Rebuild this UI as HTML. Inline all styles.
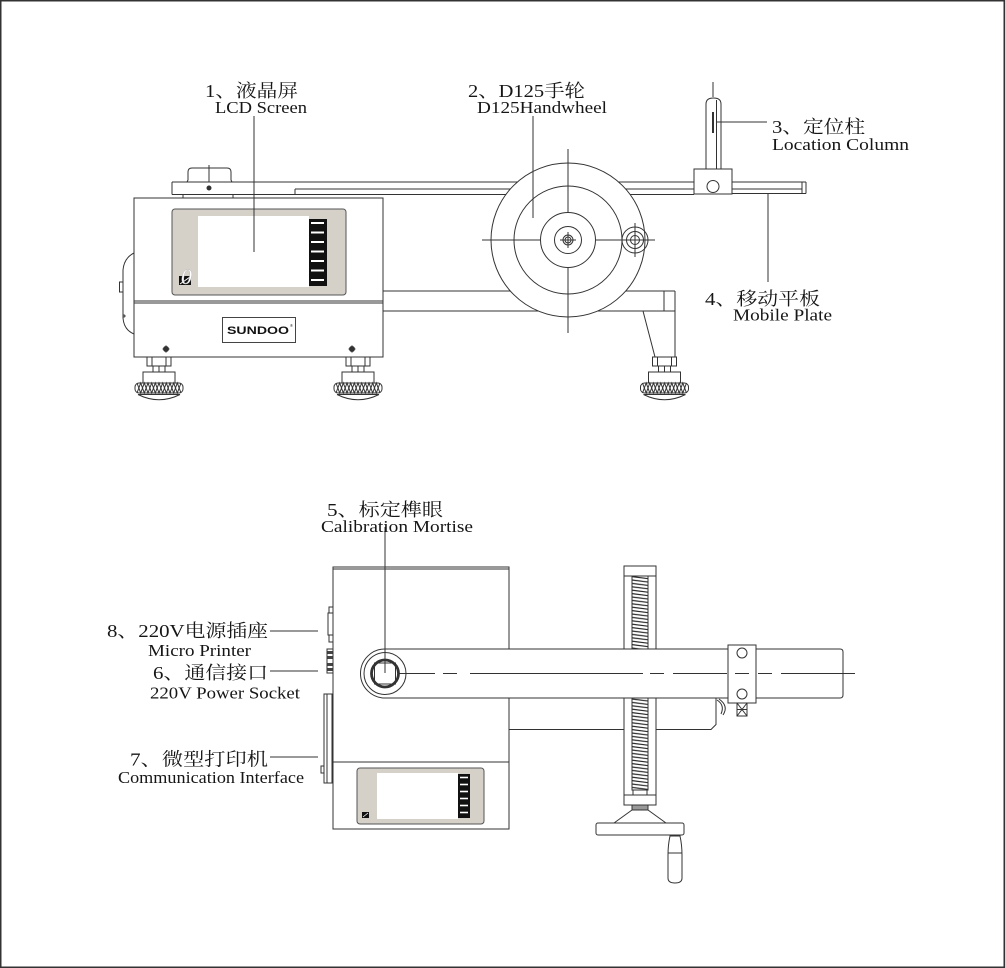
<!DOCTYPE html>
<html><head><meta charset="utf-8">
<style>
html,body{margin:0;padding:0;background:#fff;}
svg{display:block;}
.t{font-family:"Liberation Serif","Noto Serif CJK SC",serif;fill:#161616;}
.cn{font-size:18px;}
.en{font-size:16.5px;}
</style></head><body>
<svg width="1005" height="968" viewBox="0 0 1005 968" xmlns="http://www.w3.org/2000/svg">
<defs>
  <g id="foot" fill="none" stroke="#333" stroke-width="1">
    <rect x="-12" y="357" width="24" height="9" fill="#fff"/>
    <line x1="-7" y1="357" x2="-7" y2="366"/>
    <line x1="7" y1="357" x2="7" y2="366"/>
    <rect x="-6" y="366" width="12" height="6" fill="#fff"/>
    <line x1="0" y1="366" x2="0" y2="372"/>
    <rect x="-16" y="372" width="32" height="11" fill="#fff"/>
    <rect x="-24" y="383" width="48" height="10" rx="4" fill="#fff"/>
    <path d="M-22 393 L-18.3 383 L-14.7 393 L-11 383 L-7.3 393 L-3.7 383 L0 393 L3.7 383 L7.3 393 L11 383 L14.7 393 L18.3 383 L22 393"/>
    <path d="M-22 383 L-18.3 393 L-14.7 383 L-11 393 L-7.3 383 L-3.7 393 L0 383 L3.7 393 L7.3 383 L11 393 L14.7 383 L18.3 393 L22 383"/>
    <path d="M-21 394.5 L21 394.5 M-21 394.5 Q0 405 21 394.5"/>
  </g>
  <pattern id="thr" x="632" y="576" width="16" height="3.4" patternUnits="userSpaceOnUse">
    <path d="M0 0.6 L16 2.6" stroke="#222" stroke-width="1.1"/>
  </pattern>
</defs>

<rect x="0.75" y="0.75" width="1003.5" height="966.5" fill="#fff" stroke="#333" stroke-width="1.5"/>

<!-- ================= TOP MACHINE ================= -->
<g fill="none" stroke="#333" stroke-width="1">
  <!-- top knob -->
  <path d="M187 182 L188 180 V172 Q188 168 192 168 H227 Q231 168 231 172 V180 L232 182" fill="#fff"/>
  <line x1="209" y1="165" x2="209" y2="182"/>
  <!-- plate left/mid -->
  <line x1="172" y1="182" x2="694" y2="182"/>
  <line x1="172" y1="194.5" x2="694" y2="194.5"/>
  <line x1="172" y1="182" x2="172" y2="194.5"/>
  <line x1="295" y1="189" x2="694" y2="189"/>
  <line x1="295" y1="189" x2="295" y2="194.5"/>
  <circle cx="209" cy="188" r="2" fill="#333"/>
  <line x1="183" y1="194.5" x2="183" y2="198"/>
  <line x1="233" y1="194.5" x2="233" y2="198"/>
  <!-- right plate -->
  <line x1="732" y1="182" x2="806" y2="182"/>
  <line x1="732" y1="193.5" x2="806" y2="193.5"/>
  <line x1="732" y1="189" x2="802" y2="189"/>
  <line x1="806" y1="182" x2="806" y2="193.5"/>
  <line x1="802" y1="182" x2="802" y2="193.5"/>
  <!-- location column -->
  <line x1="713" y1="82" x2="713" y2="97"/>
  <path d="M706 169 V104 Q706 98 713.5 98 Q721 98 721 104 V169" fill="#fff"/>
  <line x1="716.5" y1="100" x2="716.5" y2="169"/>
  <line x1="713" y1="112" x2="713" y2="133" stroke-width="2"/>
  <rect x="694" y="169" width="38" height="25" fill="#fff"/>
  <circle cx="713" cy="186.5" r="6"/>
  <line x1="717" y1="122" x2="767" y2="122"/>
  <line x1="768" y1="194" x2="768" y2="282"/>

  <!-- main box -->
  <path d="M134 253 Q124 258 123 270 V318 Q124 330 134 334"/>
  <rect x="119.5" y="282" width="3.5" height="10" fill="#fff"/>
  <circle cx="124" cy="316" r="1"/>
  <rect x="134" y="198" width="249" height="159" fill="#fff"/>
  <line x1="134" y1="301" x2="383" y2="301"/>
  <line x1="134" y1="303" x2="383" y2="303"/>
  <!-- screws -->
  <circle cx="166" cy="349" r="2.5" fill="#333"/>
  <path d="M162 349 H170 M166 345 V353" stroke-width="0.6"/>
  <circle cx="352" cy="349" r="2.5" fill="#333"/>
  <path d="M348 349 H356 M352 345 V353" stroke-width="0.6"/>

  <!-- lower arm -->
  <line x1="383" y1="291" x2="675" y2="291"/>
  <line x1="383" y1="311" x2="675" y2="311"/>
  <line x1="664" y1="291" x2="664" y2="311"/>
  <line x1="675" y1="291" x2="675" y2="357"/>
  <line x1="643" y1="311" x2="655" y2="357"/>
</g>

<!-- LCD top -->
<rect x="172" y="209" width="174" height="86" rx="3" fill="#d5d1c9" stroke="#555" stroke-width="1"/>
<rect x="198" y="216" width="111" height="71" fill="#fff"/>
<rect x="309" y="219" width="18" height="67" fill="#111"/>
<g stroke="#fff" stroke-width="2">
  <line x1="311" y1="223" x2="324" y2="223"/>
  <line x1="311" y1="232.5" x2="324" y2="232.5"/>
  <line x1="311" y1="242" x2="324" y2="242"/>
  <line x1="311" y1="251.5" x2="324" y2="251.5"/>
  <line x1="311" y1="261" x2="324" y2="261"/>
  <line x1="311" y1="270.5" x2="324" y2="270.5"/>
  <line x1="311" y1="280" x2="324" y2="280"/>
</g>
<rect x="179" y="276" width="12" height="9" fill="#111"/>
<path d="M180 284 L190 277" stroke="#fff" stroke-width="1"/>
<text x="181" y="284" font-family="Liberation Serif, serif" font-size="22" font-style="italic" fill="#fff" stroke="#bbb" stroke-width="0.4">0</text>
<line x1="254" y1="116" x2="254" y2="252" stroke="#333" stroke-width="1"/>

<!-- SUNDOO -->
<rect x="222.5" y="317.5" width="73" height="25" fill="#fff" stroke="#444" stroke-width="1"/>
<text x="227" y="334" font-family="Liberation Sans, sans-serif" font-size="11" font-weight="bold" fill="#111" textLength="62" lengthAdjust="spacingAndGlyphs">SUNDOO</text>
<text x="290" y="327" font-family="Liberation Sans, sans-serif" font-size="4" fill="#111">®</text>

<!-- feet -->
<use href="#foot" x="159"/>
<use href="#foot" x="358"/>
<use href="#foot" x="664.5"/>

<!-- handwheel -->
<g fill="none" stroke="#333" stroke-width="1">
  <circle cx="568" cy="240" r="77" fill="#fff"/>
  <circle cx="568" cy="240" r="54"/>
  <circle cx="568" cy="240" r="27.5"/>
  <circle cx="568" cy="240" r="13.5"/>
  <circle cx="568" cy="240" r="5"/>
  <circle cx="568" cy="240" r="3"/>
  <line x1="568" y1="149" x2="568" y2="213"/>
  <line x1="568" y1="267" x2="568" y2="333"/>
  <line x1="482" y1="240" x2="541" y2="240"/>
  <line x1="596" y1="240" x2="655" y2="240"/>
  <line x1="568" y1="232" x2="568" y2="248"/>
  <line x1="560" y1="240" x2="576" y2="240"/>
  <circle cx="635" cy="240" r="13"/>
  <circle cx="635" cy="240" r="8.5"/>
  <circle cx="635" cy="240" r="4.5"/>
  <line x1="635" y1="223" x2="635" y2="257"/>
  <line x1="533" y1="116" x2="533" y2="218"/>
</g>

<!-- ================= BOTTOM MACHINE ================= -->
<g fill="none" stroke="#333" stroke-width="1">
  <!-- left side parts -->
  <rect x="329" y="607" width="4" height="6" fill="#fff"/>
  <rect x="328" y="613" width="5" height="22" fill="#fff"/>
  <rect x="329" y="635" width="4" height="7" fill="#fff"/>
  <rect x="327" y="649" width="6" height="24" fill="#fff"/>
  <rect x="324" y="694" width="8" height="89" fill="#fff"/>
  <line x1="327" y1="694" x2="327" y2="783"/>
  <rect x="321" y="766" width="3" height="7" fill="#fff"/>
</g>
<g fill="#444">
  <rect x="327.5" y="651" width="5" height="3"/>
  <rect x="327.5" y="656" width="5" height="3"/>
  <rect x="327.5" y="663" width="5" height="3"/>
  <rect x="327.5" y="668" width="5" height="3"/>
</g>
<g fill="none" stroke="#333" stroke-width="1">
  <rect x="333" y="567" width="176" height="262" fill="#fff"/>
  <line x1="333" y1="569" x2="509" y2="569"/>
  <line x1="333" y1="762" x2="509" y2="762"/>
  <!-- body extension -->
  <path d="M509 729.5 H711 L716 724.5 V698"/>
  <path d="M717 700 Q725 705 721 714"/>
  <path d="M719 699 Q729 706 723 715"/>
</g>
<!-- bottom LCD -->
<rect x="357" y="768" width="127" height="56" rx="3" fill="#d5d1c9" stroke="#555" stroke-width="1"/>
<rect x="377" y="773" width="81" height="46" fill="#fff"/>
<rect x="458" y="774" width="12" height="44" fill="#111"/>
<g stroke="#fff" stroke-width="1.6">
  <line x1="460" y1="777.5" x2="468" y2="777.5"/>
  <line x1="460" y1="784.5" x2="468" y2="784.5"/>
  <line x1="460" y1="791.5" x2="468" y2="791.5"/>
  <line x1="460" y1="798.5" x2="468" y2="798.5"/>
  <line x1="460" y1="805.5" x2="468" y2="805.5"/>
  <line x1="460" y1="812.5" x2="468" y2="812.5"/>
</g>
<rect x="362" y="812" width="7" height="6" fill="#111"/>
<path d="M363 817 L368 813" stroke="#fff" stroke-width="0.8"/>

<!-- screw column -->
<g fill="none" stroke="#333" stroke-width="1">
  <rect x="624" y="566" width="32" height="239" fill="#fff"/>
  <line x1="624" y1="576" x2="656" y2="576"/>
  <line x1="624" y1="795" x2="656" y2="795"/>
  <rect x="632" y="576" width="16" height="214" fill="url(#thr)"/>
  <rect x="633" y="790" width="14" height="5" fill="#fff"/>
  <rect x="632" y="805" width="16" height="5" fill="#999"/>
  <path d="M632 810 L614 823 M648 810 L666 823"/>
  <rect x="596" y="823" width="88" height="12" rx="2" fill="#fff"/>
  <path d="M670 836 Q668 845 668 855 V878 Q668 883 675 883 Q682 883 682 878 V855 Q682 845 680 836 Z" fill="#fff"/>
  <line x1="668" y1="853" x2="682" y2="853"/>
</g>

<!-- arm -->
<g fill="none" stroke="#333" stroke-width="1">
  <path d="M385 649 H840 Q843 649 843 652 V695 Q843 698 840 698 H385 A24.5 24.5 0 0 1 385 649 Z" fill="#fff"/>
  <circle cx="385" cy="673.5" r="21"/>
  <circle cx="385" cy="673.5" r="13.5" stroke-width="2.8"/>
  <rect x="374.5" y="663" width="21" height="21"/>
  <!-- clamp -->
  <rect x="728" y="645" width="28" height="58" fill="#fff"/>
  <circle cx="742" cy="653" r="5"/>
  <circle cx="742" cy="694" r="5"/>
  <rect x="737" y="703" width="10" height="13" fill="#fff"/>
  <path d="M737 703 L747 716 M747 703 L737 716 M737 709.5 H747"/>
  <!-- centerline -->
  <path d="M398 673.5 H435 M443 673.5 H457 M470 673.5 H643 M650 673.5 H664 M673 673.5 H727 M735 673.5 H749 M758 673.5 H772 M781 673.5 H855"/>
  <line x1="385" y1="527" x2="385" y2="673"/>
  <!-- leaders -->
  <line x1="270" y1="631" x2="318" y2="631"/>
  <line x1="270" y1="671" x2="318" y2="671"/>
  <line x1="270" y1="757" x2="318" y2="757"/>
</g>

<!-- ================= LABELS ================= -->
<text class="t cn" x="205" y="97" textLength="93" lengthAdjust="spacingAndGlyphs">1、液晶屏</text>
<text class="t en" x="215" y="113" textLength="92" lengthAdjust="spacingAndGlyphs">LCD Screen</text>
<text class="t cn" x="468" y="97" textLength="117" lengthAdjust="spacingAndGlyphs">2、D125手轮</text>
<text class="t en" x="477" y="113" textLength="130" lengthAdjust="spacingAndGlyphs">D125Handwheel</text>
<text class="t cn" x="772" y="133" textLength="93" lengthAdjust="spacingAndGlyphs">3、定位柱</text>
<text class="t en" x="772" y="150" textLength="137" lengthAdjust="spacingAndGlyphs">Location Column</text>
<text class="t cn" x="705" y="305" textLength="115" lengthAdjust="spacingAndGlyphs">4、移动平板</text>
<text class="t en" x="733" y="320.5" textLength="99" lengthAdjust="spacingAndGlyphs">Mobile Plate</text>
<text class="t cn" x="327" y="516" textLength="116" lengthAdjust="spacingAndGlyphs">5、标定榫眼</text>
<text class="t en" x="321" y="532" textLength="152" lengthAdjust="spacingAndGlyphs">Calibration Mortise</text>
<text class="t cn" x="107" y="637" textLength="161" lengthAdjust="spacingAndGlyphs">8、220V电源插座</text>
<text class="t en" x="148" y="656" textLength="103" lengthAdjust="spacingAndGlyphs">Micro Printer</text>
<text class="t cn" x="153" y="679" textLength="115" lengthAdjust="spacingAndGlyphs">6、通信接口</text>
<text class="t en" x="150" y="698.5" textLength="150" lengthAdjust="spacingAndGlyphs">220V Power Socket</text>
<text class="t cn" x="130" y="765.5" textLength="138" lengthAdjust="spacingAndGlyphs">7、微型打印机</text>
<text class="t en" x="118" y="783" textLength="186" lengthAdjust="spacingAndGlyphs">Communication Interface</text>
</svg>
</body></html>
